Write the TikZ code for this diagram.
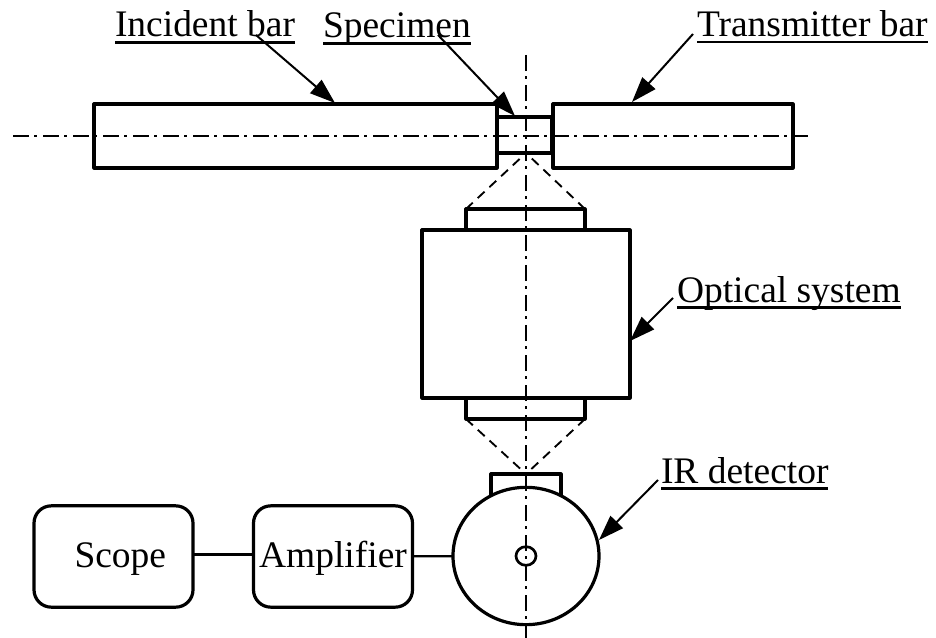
\documentclass[tikz,border=0pt]{standalone}
\usepackage{fontspec}
\setmainfont{Liberation Serif}
\usetikzlibrary{arrows.meta,shapes.geometric}
\tikzset{
  part/.style={draw,line width=2.4pt,inner sep=0pt,outer sep=0pt,line join=round},
  roundbox/.style={part,rounded corners=13pt,minimum width=119.25pt,minimum height=76pt,text height=19.5pt,text depth=3.7pt,font=\fontsize{28.1}{28.1}\selectfont},
  thinline/.style={line width=1.6pt},
  axis/.style={line width=1.8pt,dash pattern=on 12pt off 4pt on 2.2pt off 4.3pt},
  sight/.style={line width=1.4pt,dash pattern=on 7pt off 5pt},
  leader/.style={line width=1.5pt,-{Triangle[length=19pt,width=13pt]}},
  lab/.style={inner sep=0pt,outer sep=0pt,anchor=base west,font=\fontsize{28.1}{28.1}\selectfont},
  uline/.style={line width=1.9pt}
}
\begin{document}
\begin{tikzpicture}[x=.75pt,y=-.75pt]
\useasboundingbox (0,0) rectangle (936,638);
% bars
\node[part,minimum width=302.25pt,minimum height=48pt] (incident) at (295.5,136) {};
\node[part,minimum width=41pt,minimum height=27pt] (specimen) at (524.5,135) {};
\node[part,minimum width=180pt,minimum height=48pt] (transmitter) at (673,136) {};
% optics
\node[part,minimum width=89.25pt,minimum height=15.75pt] (lensT) at (525.5,219.5) {};
\node[part,minimum width=156pt,minimum height=126pt] (optical) at (526,314) {};
\node[part,minimum width=89.25pt,minimum height=15.75pt] (lensB) at (525.5,408.5) {};
% detector
\node[part,minimum width=52.5pt,minimum height=24pt] (cap) at (526,490) {};
\node[part,ellipse,fill=white,minimum width=109.5pt,minimum height=103pt] (detector) at (526,556) {};
\node[part,ellipse,minimum width=15pt,minimum height=14pt,line width=2pt] (pupil) at (526,556) {};
% blocks
\node[roundbox] (scope) at (113.5,556.5) {\hspace*{10.2pt}Scope};
\node[roundbox] (amp) at (333,556.5) {Amplifier};
\draw[thinline] ([yshift=1.5pt]scope.east) -- ([yshift=1.5pt]amp.west);
\draw[thinline] (amp) -- (detector);
% centre lines
\coordinate (hL) at (13,136);
\coordinate (hR) at (808,136);
\coordinate (vT) at (526,55);
\coordinate (vB) at (526,638);
\draw[axis] (hL) -- (hR);
\draw[axis] (vT) -- (vB);
% sight lines
\coordinate (focusT) at (526,153);
\coordinate (focusB) at (526,474);
\draw[sight] (lensT.north west) -- (focusT);
\draw[sight] (lensT.north east) -- (focusT);
\draw[sight] (lensB.south west) -- (focusB);
\draw[sight] (lensB.south east) -- (focusB);
% labels
\node[lab] (l1) at (115,37) {Incident bar};
\node[lab] (l2) at (323,38) {Specimen};
\node[lab] (l3) at (697,36.5) {Transmitter bar};
\node[lab] (l4) at (677,302) {Optical system};
\node[lab] (l5) at (661,483) {IR detector};
\foreach \n in {l1,l2,l3,l4,l5}
  \draw[uline] ([yshift=-4.2pt]\n.base west) -- ([yshift=-4.2pt]\n.base east);
% leaders
\coordinate (s1) at (256,35);
\coordinate (e1) at (335,103);
\coordinate (s2) at (438,35);
\coordinate (e2) at (515,116);
\coordinate (s3) at (693,34);
\coordinate (e3) at (632,102);
\coordinate (s4) at (673,298);
\coordinate (e4) at (630,341);
\coordinate (s5) at (658,480);
\coordinate (e5) at (599,540);
\draw[leader] (s1) -- (e1);
\draw[leader] (s2) -- (e2);
\draw[leader] (s3) -- (e3);
\draw[leader] (s4) -- (e4);
\draw[leader] (s5) -- (e5);
\end{tikzpicture}
\end{document}
